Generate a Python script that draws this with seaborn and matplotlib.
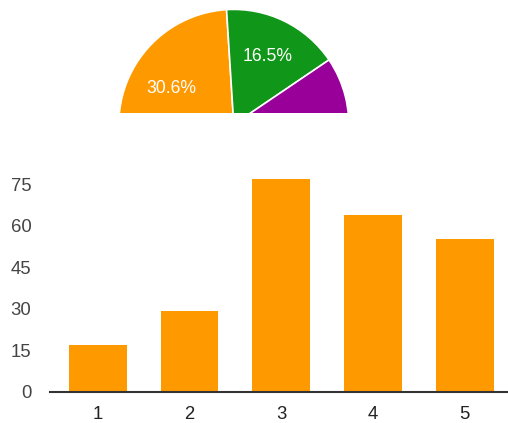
import matplotlib
matplotlib.use("Agg")
import matplotlib.pyplot as plt
import seaborn as sns
import pandas as pd
import numpy as np

# ---- data ----
ratings = ["1", "2", "3", "4", "5"]
counts = [17, 29, 77, 64, 55]

pie_names = ["orange", "green", "purple", "blue", "red"]
pie_counts = [74, 40, 27, 54, 47]
pie_colors = ["#ff9900", "#109618", "#990099", "#3366cc", "#dc3912"]
label_dist = [0.635, 0.675, 0.65, 0.65, 0.65]

sns.set_style("white")
plt.rcParams["font.family"] = ["Liberation Sans", "DejaVu Sans"]

fig = plt.figure(figsize=(5.08, 4.23), dpi=100)

# ---- clipped pie (top part only) ----
W, H = 508, 423
cx, cy, R = 233.8, 124.4, 115.0
left_px, right_px, top_px, bot_px = 113.8, 353.8, 4.0, 112.7
axp = fig.add_axes([left_px / W, 1 - bot_px / H, (right_px - left_px) / W, (bot_px - top_px) / H])
wedges, texts, autotexts = axp.pie(
    pie_counts,
    colors=pie_colors,
    startangle=-156.3,
    counterclock=False,
    autopct=lambda p: f"{p:.1f}%" if p >= 15 else "",
    pctdistance=1.0,
    wedgeprops=dict(edgecolor="white", linewidth=1.2),
    textprops=dict(color="white", fontsize=12.7),
)
for t, d in zip(autotexts, label_dist):
    x, y = t.get_position()
    t.set_position((x * d, y * d))
    t.set_va("center_baseline")
for a in list(wedges) + list(autotexts) + list(texts):
    a.set_clip_on(True)
axp.set_xlim((left_px - cx) / R, (right_px - cx) / R)
axp.set_ylim((cy - bot_px) / R, (cy - top_px) / R)
axp.set_aspect("auto")
axp.axis("off")

# ---- bar chart ----
df = pd.DataFrame({"rating": ratings, "count": counts})
zero_px = 391.5
ppu = 2.764
ymax = 80
axb = fig.add_axes([50 / W, (H - zero_px) / H, 458 / W, ymax * ppu / H])
sns.barplot(data=df, x="rating", y="count", color="#ff9900", saturation=1,
            width=0.63, ax=axb)
axb.set_ylim(0, ymax)
axb.set_xlim(-0.52, 4.47)
axb.set_yticks([0, 15, 30, 45, 60, 75])
axb.set_xlabel("")
axb.set_ylabel("")
for s in ["top", "right", "left"]:
    axb.spines[s].set_visible(False)
axb.spines["bottom"].set_color("#333333")
axb.spines["bottom"].set_linewidth(1.5)
axb.tick_params(axis="y", length=0, pad=13.5, labelsize=13.3, labelcolor="#444444")
axb.tick_params(axis="x", length=0, pad=10.5, labelsize=13.3, labelcolor="#222222")
for b in axb.patches:
    b.set_linewidth(0)

fig.savefig("out.png", dpi=100)
